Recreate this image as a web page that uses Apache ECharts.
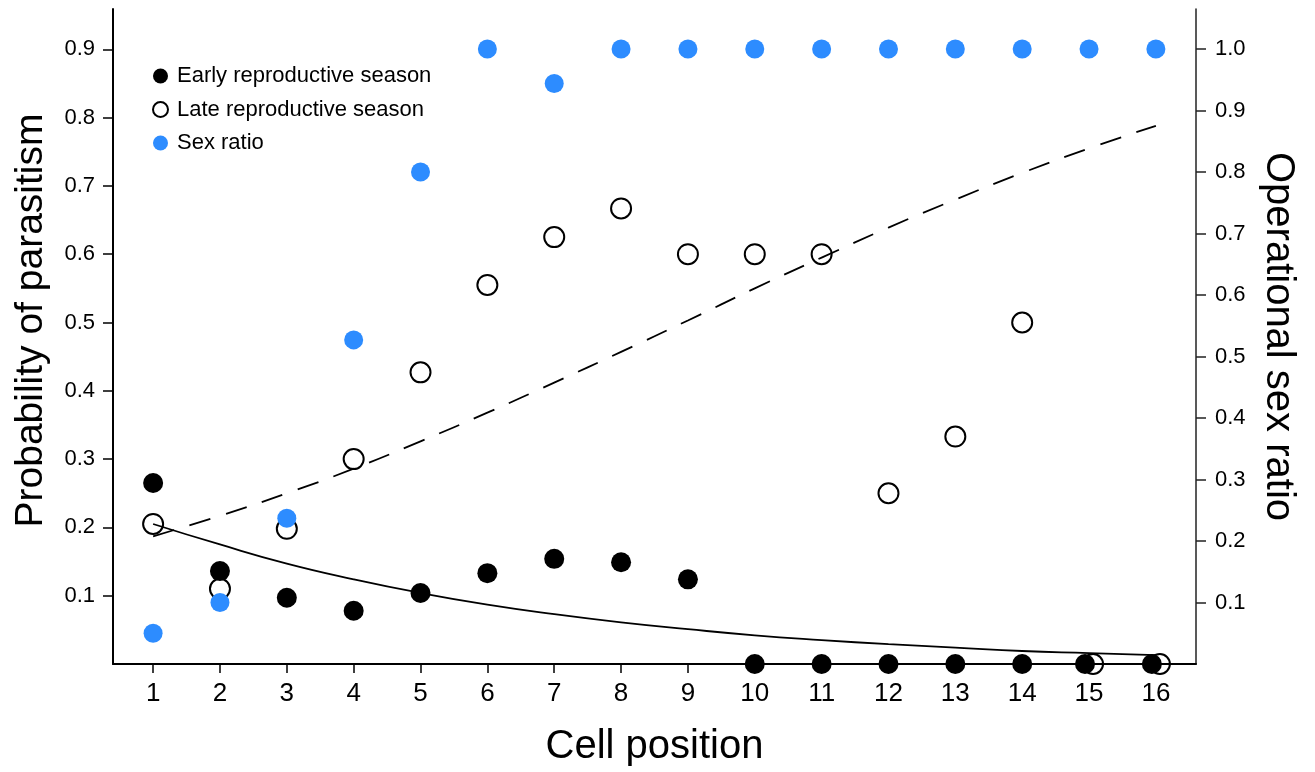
<!DOCTYPE html>
<html>
<head>
<meta charset="utf-8">
<script src="https://cdn.jsdelivr.net/npm/echarts@6/dist/echarts.min.js"></script>
<style>
html,body{margin:0;padding:0;background:#fff;}
#chart{width:1315px;height:772px;}
</style>
</head>
<body>
<div id="chart"></div>
<script>
// ---- data ----
var cellPositions = [1,2,3,4,5,6,7,8,9,10,11,12,13,14,15,16];
var xEarly = [1,2,3,4,5,6,7,8,9,10,11,12,13,14,14.94,15.94];
var xLate  = [1,2,3,4,5,6,7,8,9,10,11,12,13,14,15.06,16.06];
var earlySeason = [0.265,0.136,0.097,0.078,0.104,0.133,0.154,0.149,0.124,0,0,0,0,0,0,0];
var lateSeason  = [0.205,0.110,0.198,0.300,0.427,0.555,0.625,0.667,0.600,0.600,0.600,0.250,0.333,0.500,0,0];
var sexRatio    = [0.05,0.10,0.237,0.527,0.80,1.0,0.944,1.0,1.0,1.0,1.0,1.0,1.0,1.0,1.0,1.0];
var earlyFit    = [0.205,0.175,0.147,0.124,0.104,0.087,0.073,0.061,0.051,0.042,0.035,0.029,0.024,0.019,0.016,0.013];
var lateFit     = [0.187,0.217,0.250,0.286,0.326,0.368,0.412,0.457,0.503,0.550,0.595,0.639,0.680,0.719,0.755,0.788];
var leftTicks  = [0.1,0.2,0.3,0.4,0.5,0.6,0.7,0.8,0.9];
var rightTicks = [0.1,0.2,0.3,0.4,0.5,0.6,0.7,0.8,0.9,1.0];
var seriesNames = ['Early reproductive season','Late reproductive season','Sex ratio'];

function pairs(xs, ys){ return xs.map(function(x,i){ return [x, ys[i]]; }); }

var FONT = 'Liberation Sans, Arial, sans-serif';
var BLUE = '#2d8cff';

var chart = echarts.init(document.getElementById('chart'), null, {renderer:'canvas'});
chart.setOption({
  animation:false,
  backgroundColor:'#fff',
  textStyle:{fontFamily:FONT, color:'#000'},
  grid:{left:113, right:119, top:9, bottom:108, containLabel:false},
  legend:{
    orient:'vertical', left:147, top:60, itemWidth:23, itemHeight:15, itemGap:11.5,
    textStyle:{fontFamily:FONT, fontSize:22, color:'#000'},
    data:[
      {name:seriesNames[0], icon:'circle', itemStyle:{color:'#000', opacity:1}},
      {name:seriesNames[1], icon:'circle', itemStyle:{color:'#fff', borderColor:'#000', borderWidth:2, opacity:1}},
      {name:seriesNames[2], icon:'circle', itemStyle:{color:BLUE, opacity:1}}
    ]
  },
  xAxis:{
    type:'value', min:0.4, max:16.6,
    name:'Cell position', nameLocation:'middle', nameGap:63,
    nameTextStyle:{fontFamily:FONT, fontSize:40, color:'#000'},
    axisLine:{show:true, lineStyle:{color:'#000', width:2}},
    axisTick:{show:true, length:9, customValues:cellPositions, lineStyle:{color:'#000', width:1.5}},
    axisLabel:{customValues:cellPositions, fontFamily:FONT, fontSize:26, color:'#000', margin:17},
    splitLine:{show:false}
  },
  yAxis:[
    {
      type:'value', min:0, max:0.959, position:'left',
      name:'Probability of parasitism', nameLocation:'middle', nameGap:62,
      nameTextStyle:{fontFamily:FONT, fontSize:39, color:'#000', padding:[0,0,0,32]},
      axisLine:{show:true, lineStyle:{color:'#000', width:2}},
      axisTick:{show:true, length:10, customValues:leftTicks, lineStyle:{color:'#000', width:1.5}},
      axisLabel:{customValues:leftTicks, fontFamily:FONT, fontSize:22, color:'#000', margin:18,
        formatter:function(v){ return v.toFixed(1); }},
      splitLine:{show:false}
    },
    {
      type:'value', min:0, max:1.065, position:'right',
      name:'Operational sex ratio', nameLocation:'middle', nameGap:62, nameRotate:-90,
      nameTextStyle:{fontFamily:FONT, fontSize:40, color:'#000'},
      axisLine:{show:true, lineStyle:{color:'#222', width:1.5}},
      axisTick:{show:true, length:10, customValues:rightTicks, lineStyle:{color:'#222', width:1.5}},
      axisLabel:{customValues:rightTicks, fontFamily:FONT, fontSize:22, color:'#000', margin:19,
        formatter:function(v){ return v.toFixed(1); }},
      splitLine:{show:false}
    }
  ],
  series:[
    {
      name:seriesNames[1], type:'scatter', yAxisIndex:0, z:2,
      symbol:'circle', symbolSize:20,
      itemStyle:{color:'rgba(255,255,255,0)', borderColor:'#000', borderWidth:2, opacity:1},
      data:pairs(xLate, lateSeason)
    },
    {
      name:seriesNames[0], type:'scatter', yAxisIndex:0, z:3,
      symbol:'circle', symbolSize:20,
      itemStyle:{color:'#000', opacity:1},
      data:pairs(xEarly, earlySeason)
    },
    {
      name:seriesNames[2], type:'scatter', yAxisIndex:1, z:4,
      symbol:'circle', symbolSize:19,
      itemStyle:{color:BLUE, opacity:1},
      data:pairs(cellPositions, sexRatio)
    },
    {
      name:'earlyFit', type:'line', yAxisIndex:0, z:5, smooth:true, showSymbol:false, symbol:'none',
      lineStyle:{color:'#000', width:1.8},
      data:pairs(cellPositions, earlyFit)
    },
    {
      name:'lateFit', type:'line', yAxisIndex:0, z:5, smooth:true, showSymbol:false, symbol:'none',
      lineStyle:{color:'#000', width:1.8, type:[22,16]},
      data:pairs(cellPositions, lateFit)
    }
  ]
});
</script>
</body>
</html>
